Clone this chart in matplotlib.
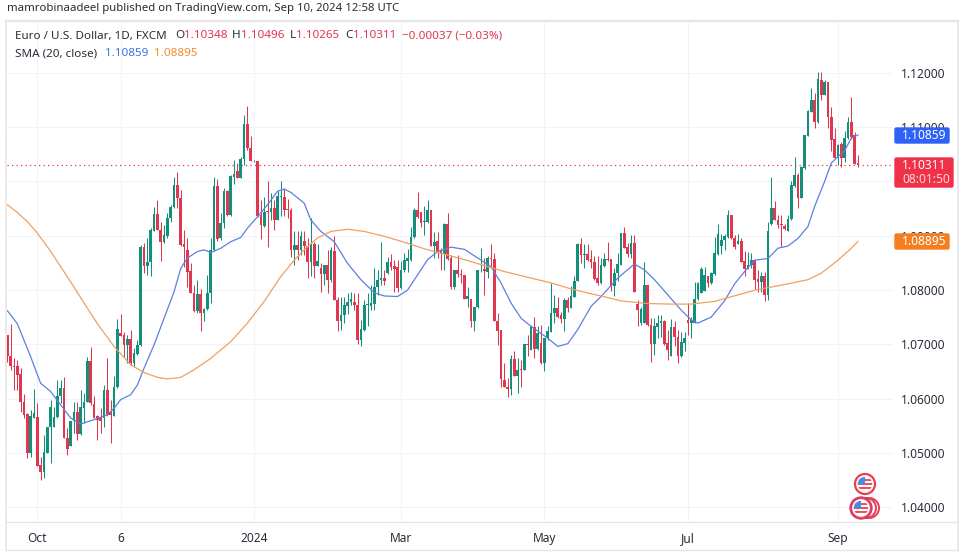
import numpy as np
import matplotlib
matplotlib.use("Agg")
import matplotlib.pyplot as plt
from matplotlib.patches import Circle, Rectangle, FancyBboxPatch

plt.rcParams['font.family'] = ['Noto Sans', 'DejaVu Sans']

# --- Daily candles ---
OPENS = [
    1.0717, 1.0679, 1.0660, 1.0659, 1.0646, 1.0593, 1.0572, 1.0499, 1.0564, 1.0566,
    1.0478, 1.0465, 1.0500, 1.0548, 1.0548, 1.0566, 1.0604, 1.0619, 1.0527, 1.0513,
    1.0559, 1.0576, 1.0535, 1.0582, 1.0594, 1.0670, 1.0590, 1.0567, 1.0564, 1.0564,
    1.0616, 1.0576, 1.0568, 1.0621, 1.0720, 1.0717, 1.0699, 1.0709, 1.0665, 1.0682,
    1.0698, 1.0879, 1.0845, 1.0851, 1.0908, 1.0940, 1.0911, 1.0888, 1.0900, 1.0932,
    1.0953, 1.0994, 1.0969, 1.0885, 1.0874, 1.0835, 1.0795, 1.0762, 1.0793, 1.0757,
    1.0765, 1.0794, 1.0874, 1.0992, 1.0896, 1.0923, 1.0982, 1.0939, 1.1008, 1.1020,
    1.1007, 1.1041, 1.1106, 1.1061, 1.1037, 1.1038, 1.0939, 1.0918, 1.0945, 1.0943,
    1.0952, 1.0929, 1.0972, 1.0971, 1.0949, 1.0948, 1.0874, 1.0883, 1.0874, 1.0891,
    1.0881, 1.0852, 1.0885, 1.0845, 1.0841, 1.0830, 1.0846, 1.0818, 1.0872, 1.0782,
    1.0742, 1.0753, 1.0771, 1.0777, 1.0778, 1.0773, 1.0707, 1.0727, 1.0773, 1.0771,
    1.0775, 1.0806, 1.0818, 1.0822, 1.0831, 1.0851, 1.0845, 1.0842, 1.0803, 1.0837,
    1.0854, 1.0856, 1.0897, 1.0948, 1.0943, 1.0926, 1.0926, 1.0948, 1.0882, 1.0891,
    1.0874, 1.0867, 1.0922, 1.0859, 1.0806, 1.0837, 1.0830, 1.0828, 1.0784, 1.0784,
    1.0742, 1.0768, 1.0836, 1.0838, 1.0834, 1.0859, 1.0857, 1.0743, 1.0727, 1.0634,
    1.0622, 1.0618, 1.0673, 1.0642, 1.0655, 1.0653, 1.0701, 1.0690, 1.0731, 1.0691,
    1.0703, 1.0665, 1.0711, 1.0723, 1.0757, 1.0766, 1.0754, 1.0747, 1.0782, 1.0766,
    1.0788, 1.0817, 1.0885, 1.0865, 1.0867, 1.0857, 1.0852, 1.0822, 1.0813, 1.0844,
    1.0857, 1.0857, 1.0808, 1.0831, 1.0846, 1.0905, 1.0879, 1.0867, 1.0886, 1.0775,
    1.0740, 1.0740, 1.0809, 1.0736, 1.0701, 1.0731, 1.0740, 1.0742, 1.0702, 1.0679,
    1.0731, 1.0714, 1.0679, 1.0703, 1.0744, 1.0740, 1.0739, 1.0783, 1.0795, 1.0798,
    1.0825, 1.0812, 1.0829, 1.0866, 1.0881, 1.0892, 1.0898, 1.0938, 1.0895, 1.0885,
    1.0891, 1.0854, 1.0839, 1.0846, 1.0855, 1.0820, 1.0814, 1.0826, 1.0790, 1.0921,
    1.0952, 1.0929, 1.0921, 1.0918, 1.0909, 1.0930, 1.0992, 1.1012, 1.0970, 1.1024,
    1.1084, 1.1129, 1.1150, 1.1109, 1.1187, 1.1159, 1.1184, 1.1118, 1.1078, 1.1044,
    1.1069, 1.1043, 1.1081, 1.1109, 1.1086, 1.10348,
]
HIGHS = [
    1.0717, 1.0738, 1.0674, 1.0671, 1.0656, 1.0609, 1.0573, 1.0579, 1.0617, 1.0591,
    1.0493, 1.0533, 1.0548, 1.0598, 1.0584, 1.0634, 1.0634, 1.0639, 1.0545, 1.0559,
    1.0594, 1.0594, 1.0616, 1.0610, 1.0677, 1.0695, 1.0605, 1.0570, 1.0582, 1.0625,
    1.0674, 1.0598, 1.0641, 1.0746, 1.0755, 1.0722, 1.0717, 1.0727, 1.0693, 1.0708,
    1.0883, 1.0886, 1.0896, 1.0914, 1.0953, 1.0966, 1.0926, 1.0920, 1.0942, 1.0957,
    1.1009, 1.1018, 1.0985, 1.0911, 1.0896, 1.0849, 1.0809, 1.0819, 1.0802, 1.0767,
    1.0828, 1.0896, 1.1009, 1.1004, 1.0942, 1.0988, 1.0985, 1.1012, 1.1040, 1.1034,
    1.1046, 1.1123, 1.1139, 1.1084, 1.1040, 1.1038, 1.0966, 1.0971, 1.1000, 1.0979,
    1.0966, 1.0982, 1.1000, 1.0988, 1.0967, 1.0951, 1.0908, 1.0908, 1.0908, 1.0909,
    1.0896, 1.0932, 1.0889, 1.0885, 1.0849, 1.0846, 1.0874, 1.0880, 1.0899, 1.0788,
    1.0788, 1.0788, 1.0795, 1.0797, 1.0795, 1.0794, 1.0745, 1.0782, 1.0794, 1.0809,
    1.0840, 1.0837, 1.0889, 1.0837, 1.0861, 1.0867, 1.0856, 1.0856, 1.0853, 1.0868,
    1.0875, 1.0917, 1.0951, 1.0981, 1.0943, 1.0954, 1.0965, 1.0948, 1.0906, 1.0906,
    1.0877, 1.0924, 1.0942, 1.0865, 1.0837, 1.0865, 1.0838, 1.0828, 1.0806, 1.0784,
    1.0768, 1.0837, 1.0877, 1.0859, 1.0862, 1.0885, 1.0868, 1.0757, 1.0727, 1.0666,
    1.0638, 1.0680, 1.0688, 1.0674, 1.0671, 1.0701, 1.0717, 1.0736, 1.0751, 1.0734,
    1.0736, 1.0711, 1.0733, 1.0813, 1.0791, 1.0787, 1.0760, 1.0785, 1.0788, 1.0808,
    1.0826, 1.0886, 1.0896, 1.0885, 1.0885, 1.0874, 1.0862, 1.0862, 1.0859, 1.0868,
    1.0888, 1.0857, 1.0840, 1.0868, 1.0905, 1.0917, 1.0886, 1.0902, 1.0902, 1.0782,
    1.0768, 1.0852, 1.0809, 1.0748, 1.0748, 1.0754, 1.0754, 1.0745, 1.0727, 1.0746,
    1.0742, 1.0727, 1.0723, 1.0723, 1.0776, 1.0751, 1.0815, 1.0815, 1.0843, 1.0843,
    1.0825, 1.0834, 1.0898, 1.0921, 1.0904, 1.0904, 1.0947, 1.0938, 1.0901, 1.0903,
    1.0895, 1.0871, 1.0870, 1.0868, 1.0855, 1.0836, 1.0834, 1.0834, 1.0926, 1.1008,
    1.0964, 1.0938, 1.0938, 1.0921, 1.0938, 1.1000, 1.1046, 1.1015, 1.1029, 1.1086,
    1.1132, 1.1173, 1.1163, 1.1201, 1.1202, 1.1187, 1.1184, 1.1138, 1.1098, 1.1070,
    1.1073, 1.1094, 1.1119, 1.1155, 1.1091, 1.10496,
]
LOWS = [
    1.0668, 1.0653, 1.0616, 1.0616, 1.0576, 1.0564, 1.0490, 1.0492, 1.0564, 1.0476,
    1.0449, 1.0453, 1.0499, 1.0482, 1.0548, 1.0564, 1.0591, 1.0527, 1.0496, 1.0512,
    1.0536, 1.0524, 1.0533, 1.0555, 1.0593, 1.0588, 1.0564, 1.0524, 1.0536, 1.0548,
    1.0567, 1.0518, 1.0567, 1.0619, 1.0716, 1.0677, 1.0665, 1.0662, 1.0658, 1.0680,
    1.0696, 1.0831, 1.0828, 1.0825, 1.0908, 1.0910, 1.0853, 1.0886, 1.0896, 1.0926,
    1.0951, 1.0951, 1.0881, 1.0843, 1.0806, 1.0795, 1.0760, 1.0757, 1.0725, 1.0742,
    1.0763, 1.0776, 1.0871, 1.0891, 1.0892, 1.0914, 1.0937, 1.0936, 1.0996, 1.1006,
    1.1006, 1.1031, 1.1058, 1.1037, 1.1036, 1.0935, 1.0894, 1.0917, 1.0879, 1.0929,
    1.0911, 1.0929, 1.0936, 1.0936, 1.0932, 1.0861, 1.0846, 1.0856, 1.0865, 1.0865,
    1.0822, 1.0825, 1.0822, 1.0845, 1.0797, 1.0809, 1.0795, 1.0814, 1.0781, 1.0724,
    1.0727, 1.0739, 1.0755, 1.0773, 1.0763, 1.0701, 1.0696, 1.0725, 1.0733, 1.0763,
    1.0763, 1.0791, 1.0809, 1.0809, 1.0830, 1.0837, 1.0797, 1.0797, 1.0802, 1.0834,
    1.0834, 1.0854, 1.0896, 1.0932, 1.0916, 1.0902, 1.0923, 1.0881, 1.0859, 1.0859,
    1.0836, 1.0837, 1.0855, 1.0802, 1.0802, 1.0824, 1.0813, 1.0783, 1.0768, 1.0732,
    1.0725, 1.0766, 1.0834, 1.0791, 1.0822, 1.0840, 1.0742, 1.0699, 1.0622, 1.0621,
    1.0602, 1.0607, 1.0641, 1.0611, 1.0622, 1.0653, 1.0679, 1.0690, 1.0674, 1.0690,
    1.0664, 1.0650, 1.0708, 1.0722, 1.0739, 1.0748, 1.0739, 1.0725, 1.0760, 1.0766,
    1.0787, 1.0816, 1.0849, 1.0840, 1.0854, 1.0840, 1.0819, 1.0810, 1.0811, 1.0843,
    1.0853, 1.0799, 1.0789, 1.0816, 1.0846, 1.0877, 1.0860, 1.0859, 1.0797, 1.0734,
    1.0736, 1.0739, 1.0733, 1.0668, 1.0680, 1.0711, 1.0713, 1.0699, 1.0671, 1.0679,
    1.0696, 1.0666, 1.0677, 1.0687, 1.0717, 1.0711, 1.0739, 1.0782, 1.0794, 1.0798,
    1.0806, 1.0811, 1.0828, 1.0865, 1.0866, 1.0874, 1.0895, 1.0894, 1.0876, 1.0885,
    1.0851, 1.0826, 1.0839, 1.0840, 1.0802, 1.0797, 1.0797, 1.0779, 1.0782, 1.0920,
    1.0929, 1.0914, 1.0880, 1.0911, 1.0909, 1.0929, 1.0990, 1.0951, 1.0969, 1.1023,
    1.1084, 1.1129, 1.1099, 1.1107, 1.1150, 1.1159, 1.1098, 1.1056, 1.1043, 1.1030,
    1.1027, 1.1036, 1.1079, 1.1079, 1.1032, 1.10265,
]
CLOSES = [
    1.0679, 1.0659, 1.0658, 1.0644, 1.0593, 1.0570, 1.0499, 1.0567, 1.0573, 1.0476,
    1.0465, 1.0502, 1.0547, 1.0584, 1.0566, 1.0604, 1.0619, 1.0527, 1.0507, 1.0559,
    1.0576, 1.0535, 1.0584, 1.0594, 1.0670, 1.0591, 1.0564, 1.0561, 1.0558, 1.0616,
    1.0570, 1.0569, 1.0621, 1.0728, 1.0716, 1.0699, 1.0709, 1.0665, 1.0684, 1.0699,
    1.0879, 1.0845, 1.0851, 1.0910, 1.0940, 1.0910, 1.0888, 1.0902, 1.0932, 1.0953,
    1.0994, 1.0969, 1.0883, 1.0879, 1.0834, 1.0795, 1.0762, 1.0793, 1.0757, 1.0765,
    1.0794, 1.0874, 1.0992, 1.0894, 1.0923, 1.0982, 1.0939, 1.1010, 1.1014, 1.1006,
    1.1041, 1.1106, 1.1061, 1.1037, 1.1038, 1.0937, 1.0920, 1.0943, 1.0943, 1.0952,
    1.0929, 1.0974, 1.0974, 1.0948, 1.0948, 1.0874, 1.0883, 1.0874, 1.0899, 1.0881,
    1.0852, 1.0885, 1.0845, 1.0854, 1.0830, 1.0846, 1.0818, 1.0874, 1.0781, 1.0742,
    1.0754, 1.0773, 1.0778, 1.0783, 1.0773, 1.0707, 1.0728, 1.0773, 1.0774, 1.0776,
    1.0806, 1.0819, 1.0822, 1.0816, 1.0851, 1.0843, 1.0838, 1.0803, 1.0837, 1.0856,
    1.0859, 1.0897, 1.0948, 1.0934, 1.0924, 1.0928, 1.0948, 1.0882, 1.0888, 1.0868,
    1.0867, 1.0922, 1.0857, 1.0806, 1.0837, 1.0830, 1.0827, 1.0784, 1.0789, 1.0742,
    1.0768, 1.0836, 1.0837, 1.0835, 1.0859, 1.0857, 1.0742, 1.0725, 1.0636, 1.0621,
    1.0618, 1.0673, 1.0642, 1.0653, 1.0653, 1.0701, 1.0698, 1.0731, 1.0691, 1.0720,
    1.0665, 1.0711, 1.0725, 1.0757, 1.0766, 1.0751, 1.0747, 1.0782, 1.0766, 1.0789,
    1.0817, 1.0885, 1.0865, 1.0866, 1.0856, 1.0851, 1.0820, 1.0813, 1.0846, 1.0857,
    1.0856, 1.0808, 1.0831, 1.0848, 1.0905, 1.0878, 1.0867, 1.0886, 1.0797, 1.0763,
    1.0765, 1.0809, 1.0736, 1.0701, 1.0733, 1.0739, 1.0742, 1.0701, 1.0690, 1.0731,
    1.0713, 1.0679, 1.0705, 1.0711, 1.0740, 1.0745, 1.0783, 1.0812, 1.0839, 1.0828,
    1.0812, 1.0831, 1.0868, 1.0904, 1.0892, 1.0900, 1.0938, 1.0895, 1.0880, 1.0891,
    1.0852, 1.0839, 1.0846, 1.0855, 1.0818, 1.0814, 1.0826, 1.0790, 1.0909, 1.0952,
    1.0929, 1.0920, 1.0919, 1.0912, 1.0931, 1.0994, 1.1012, 1.0970, 1.1027, 1.1086,
    1.1130, 1.1150, 1.1110, 1.1189, 1.1159, 1.1184, 1.1118, 1.1076, 1.1044, 1.1068,
    1.1043, 1.1081, 1.1109, 1.1082, 1.1033, 1.10311,
]

# --- SMA lines, sampled along the curves (bar number, price) ---
BLUE_BARS = [0, 3, 7, 10, 13, 16, 19, 22, 26, 30, 32, 34, 37, 39, 41, 44, 47, 50, 52, 54, 57, 59, 61, 64,
             67, 70, 72, 75, 78, 81, 83, 85, 89, 91, 94, 98, 102, 106, 110, 113, 117, 120, 123, 126, 129,
             133, 137, 141, 145, 148, 151, 154, 157, 162, 165, 168, 171, 175, 178, 183, 188, 191, 194,
             198, 202, 205, 207, 211, 215, 218, 221, 224, 228, 231, 234, 237, 240, 242, 245, 247, 249,
             251, 253, 255]
BLUE_SMA = [1.0762, 1.0738, 1.0677, 1.0628, 1.0613, 1.0588, 1.0564, 1.0553, 1.0561, 1.0570, 1.0582, 1.0598,
            1.0607, 1.0625, 1.0656, 1.0699, 1.0748, 1.0797, 1.0840, 1.0859, 1.0871, 1.0874, 1.0869, 1.0877,
            1.0889, 1.0897, 1.0914, 1.0935, 1.0957, 1.0982, 1.0986, 1.0980, 1.0960, 1.0929, 1.0908, 1.0889,
            1.0849, 1.0819, 1.0795, 1.0789, 1.0788, 1.0800, 1.0828, 1.0856, 1.0871, 1.0879, 1.0875, 1.0859,
            1.0843, 1.0813, 1.0776, 1.0748, 1.0733, 1.0711, 1.0696, 1.0701, 1.0727, 1.0770, 1.0788, 1.0822,
            1.0848, 1.0837, 1.0819, 1.0791, 1.0763, 1.0745, 1.0739, 1.0750, 1.0780, 1.0811, 1.0834, 1.0855,
            1.0858, 1.0877, 1.0881, 1.0895, 1.0917, 1.0954, 1.1000, 1.1034, 1.1046, 1.1057, 1.1080, 1.10859]
ORANGE_BARS = [0, 3, 6, 9, 13, 16, 19, 23, 27, 32, 37, 41, 45, 48, 52, 56, 61, 67, 72, 77, 82, 86, 89, 93,
               97, 102, 107, 113, 119, 125, 131, 137, 143, 149, 155, 163, 169, 175, 178, 184, 192, 199,
               205, 212, 219, 225, 232, 240, 244, 249, 253, 255]
ORANGE_SMA = [1.0957, 1.0943, 1.0926, 1.0905, 1.0871, 1.0843, 1.0815, 1.0776, 1.0738, 1.0696, 1.0662, 1.0648,
              1.0639, 1.0636, 1.0639, 1.0653, 1.0674, 1.0705, 1.0739, 1.0779, 1.0825, 1.0855, 1.0874, 1.0896,
              1.0908, 1.0912, 1.0908, 1.0899, 1.0888, 1.0876, 1.0866, 1.0856, 1.0845, 1.0834, 1.0825, 1.0813,
              1.0802, 1.0793, 1.0789, 1.0780, 1.0775, 1.0774, 1.0774, 1.0779, 1.0791, 1.0801, 1.0809, 1.0819,
              1.0831, 1.0855, 1.0877, 1.08895]

# --- Axis labels ---
PRICE_TICKS = [1.04, 1.05, 1.06, 1.07, 1.08, 1.09, 1.10, 1.11, 1.12]
TICK_BARS = [9, 34, 74, 118, 161, 204, 249]
TICK_LABELS = ['Oct', '6', '2024', 'Mar', 'May', 'Jul', 'Sep']

LAST_CLOSE = 1.10311

GREEN = '#12907c'
RED = '#e03650'
BLUE = '#5c80e0'
ORANGE = '#f0a060'
GRID = '#f0f3fa'
TEXT = '#2a2e39'

W, H = 966, 556
BAR_PX = 3.336
fig = plt.figure(figsize=(W / 100, H / 100), dpi=100, facecolor='white')

# price pane in pixel terms: x 7..893, y 22..522
ax = fig.add_axes([7 / W, 1 - 522 / H, (893 - 7) / W, 500 / H])
ax.set_xlim((7 - 7.3) / BAR_PX, (893 - 7.3) / BAR_PX)
ax.set_ylim(1.12 - 449 / 5425, 1.12 + 51 / 5425)
for s in ax.spines.values():
    s.set_visible(False)
ax.set_axisbelow(True)
ax.grid(True, color=GRID, lw=0.8)

# --- Candles ---
bars = np.arange(len(OPENS))
opens = np.array(OPENS)
closes = np.array(CLOSES)
colors = [GREEN if c > o else RED for o, c in zip(opens, closes)]
ax.vlines(bars, LOWS, HIGHS, colors=colors, lw=0.75, zorder=2)
ax.bar(bars, np.maximum(np.abs(closes - opens), 0.00012), bottom=np.minimum(opens, closes),
       width=0.8, color=colors, lw=0, zorder=3)

# --- SMAs and last price ---
ax.plot(BLUE_BARS, BLUE_SMA, color=BLUE, lw=0.9, zorder=4)
ax.plot(ORANGE_BARS, ORANGE_SMA, color=ORANGE, lw=0.9, zorder=4)
ax.axhline(LAST_CLOSE, color=RED, lw=0.9, ls=(0, (1, 2.6)), zorder=4)

# --- Ticks ---
ax.yaxis.tick_right()
ax.set_yticks(PRICE_TICKS)
ax.set_yticklabels([f'{p:.5f}' for p in PRICE_TICKS], fontsize=8.6, color=TEXT)
ax.set_xticks(TICK_BARS)
ax.set_xticklabels(TICK_LABELS, fontsize=8.6, color=TEXT)
ax.get_xticklabels()[2].set_fontweight('bold')
ax.tick_params(length=0, axis='y', pad=6)
ax.tick_params(length=0, axis='x', pad=7)

# --- Overlay in pixel coordinates for the frame, badges, header and flags ---
ov = fig.add_axes([0, 0, 1, 1], facecolor='none', zorder=5)
ov.set_xlim(0, W)
ov.set_ylim(H, 0)
ov.axis('off')

FRAME = '#e6e6e8'
ov.plot([6, 958], [21, 21], color=FRAME, lw=1.6)
ov.plot([6, 6], [21, 550], color=FRAME, lw=1.2)
ov.plot([958, 958], [21, 550], color=FRAME, lw=1.2)
ov.plot([6, 958], [522, 522], color=FRAME, lw=1.0)
ov.plot([6, 958], [550, 550], color=FRAME, lw=1.0)


def badge(y0, y1, x1, color, lines):
    ov.add_patch(FancyBboxPatch((895, y0 + 1), x1 - 896, y1 - y0 - 2,
                                boxstyle='round,pad=0,rounding_size=1.5', fc=color, ec=color, lw=1))
    for ty, label, col in lines:
        ov.text(902, ty, label, color=col, fontsize=8.6, va='center', ha='left', fontweight='medium')


badge(127, 144, 950, '#2e62f5', [(135.5, '1.10859', 'white')])
badge(157, 188, 954, '#ef3248', [(165.5, '1.10311', 'white'), (179.5, '08:01:50', '#fbd5da')])
badge(233, 250, 950, '#f57f20', [(241.5, '1.08895', 'white')])

ov.text(7, 9, 'mamrobinaadeel published on TradingView.com, Sep 10, 2024 12:58 UTC',
        fontsize=8.2, color='#2b2b2b', va='center')

LEGEND_Y = 36
ov.text(15, LEGEND_Y, 'Euro / U.S. Dollar, 1D, FXCM', fontsize=8.4, color=TEXT, va='center')
for x, label, col in [(175, 'O', TEXT), (184, '1.10348', RED), (232, 'H', TEXT), (241, '1.10496', RED),
                      (290, 'L', TEXT), (296, '1.10265', RED), (345, 'C', TEXT), (353, '1.10311', RED),
                      (402, '\u22120.00037 (\u22120.03%)', RED)]:
    ov.text(x, LEGEND_Y, label, fontsize=8.4, color=col, va='center')
ov.text(15, 54, 'SMA (20, close)', fontsize=8.4, color=TEXT, va='center')
ov.text(105, 54, '1.10859', fontsize=8.4, color='#3f6fe8', va='center')
ov.text(154, 54, '1.08895', fontsize=8.4, color='#f08a30', va='center')


def flag(cx, cy):
    ov.add_patch(Circle((cx, cy), 10, fc='white', ec='#ef3b50', lw=1.6))
    disc = Circle((cx, cy), 7.2, fc='white', ec='none')
    ov.add_patch(disc)
    for dy in (-5, -1, 3):
        r = Rectangle((cx - 8, cy + dy), 16, 2.2, fc='#ef5060', ec='none')
        ov.add_patch(r)
        r.set_clip_path(disc)
    c = Rectangle((cx - 8, cy - 8), 8, 8, fc='#3f8fe8', ec='none')
    ov.add_patch(c)
    c.set_clip_path(disc)


flag(865, 484)
ov.add_patch(Circle((869, 508), 10, fc='white', ec='#ef3b50', lw=1.4))
ov.add_patch(Circle((866, 508), 10, fc='white', ec='#ef3b50', lw=1.4))
ov.add_patch(Circle((861, 508), 10.5, fc='white', ec='#8e3fae', lw=1.6))
flag(861, 508)

fig.savefig('out.png', dpi=100)
